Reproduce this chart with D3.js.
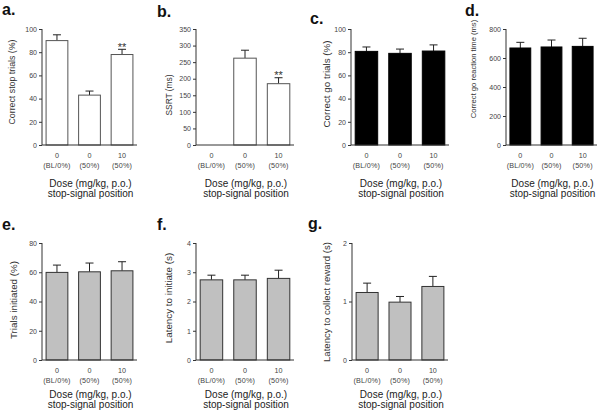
<!DOCTYPE html>
<html><head><meta charset="utf-8">
<script src="https://cdn.jsdelivr.net/npm/d3@7"></script>
<style>body{margin:0;background:#fff}svg{display:block;font-family:"Liberation Sans",Arial,sans-serif}</style>
</head><body><svg id="c" width="602" height="414"></svg>
<script>
const categories = ["0", "0", "10"];
const positions = ["(BL/0%)", "(50%)", "(50%)"];
const stopTrials = [90, 43, 78];
const stopTrialsErr = [95, 46.5, 82.5];
const ssrt = [null, 262, 185];
const ssrtErr = [null, 286, 203];
const goTrials = [80.7, 79, 81];
const goTrialsErr = [84.5, 82.7, 86.3];
const goRT = [669, 676, 680];
const goRTErr = [708, 724, 736];
const initiated = [59.9, 60.3, 61];
const initiatedErr = [64.9, 66.3, 67.2];
const latInit = [2.74, 2.74, 2.79];
const latInitErr = [2.9, 2.9, 3.07];
const latReward = [1.154, 0.989, 1.257];
const latRewardErr = [1.314, 1.086, 1.429];
const sig = [["", "", "**"], ["", "", "**"]];

const panels = [
  {lab:"a.", lx:2, ly:15, x0:42, x1:137, y0:29, y1:145, max:100, ticks:[0,20,40,60,80,100], v:stopTrials, e:stopTrialsErr, fill:"#fff", stroke:"#555", title:"Correct stop trials (%)", tx:12, ty:82, tf:8.8, star:sig[0], d1:42, d2:52},
  {lab:"b.", lx:157, ly:17, x0:196, x1:294, y0:29, y1:145, max:350, ticks:[0,50,100,150,200,250,300,350], v:ssrt, e:ssrtErr, fill:"#fff", stroke:"#555", title:"SSRT (ms)", tx:169, ty:95, tf:8.4, star:sig[1], d1:42, d2:52},
  {lab:"c.", lx:310, ly:24, x0:351, x1:449, y0:29, y1:145, max:100, ticks:[0,20,40,60,80,100], v:goTrials, e:goTrialsErr, fill:"#000", stroke:"#000", title:"Correct go trials (%)", tx:327, ty:84, tf:9.8, d1:42, d2:52},
  {lab:"d.", lx:465, ly:16, x0:506, x1:597, y0:29, y1:145, max:800, ticks:[0,200,400,600,800], v:goRT, e:goRTErr, fill:"#000", stroke:"#000", title:"Correct go reaction time (ms)", tx:473, ty:69, tf:7.6, d1:42, d2:52},
  {lab:"e.", lx:2, ly:230, x0:42, x1:137, y0:243, y1:360, max:80, ticks:[0,20,40,60,80], v:initiated, e:initiatedErr, fill:"#c0c0c0", stroke:"#333", title:"Trials initiated (%)", tx:14, ty:300, tf:9.8, d1:38, d2:47.5},
  {lab:"f.", lx:157, ly:230, x0:196, x1:294, y0:243, y1:360, max:4, ticks:[0,1,2,3,4], v:latInit, e:latInitErr, fill:"#c0c0c0", stroke:"#333", title:"Latency to initiate (s)", tx:169, ty:298, tf:9.8, d1:38, d2:47.5},
  {lab:"g.", lx:308, ly:229, x0:352, x1:448, y0:243, y1:360, max:2, ticks:[0,1,2], v:latReward, e:latRewardErr, fill:"#c0c0c0", stroke:"#333", title:"Latency to collect reward (s)", tx:327, ty:302, tf:9.6, d1:38, d2:47.5}
];

const svg = d3.select("#c");
panels.forEach(p => {
  const g = svg.append("g");
  const x = d3.scaleBand().domain([0,1,2]).range([p.x0, p.x1]).paddingInner(0.3).paddingOuter(0.11);
  const y = d3.scaleLinear().domain([0, p.max]).range([p.y1, p.y0]);
  g.append("text").attr("x", p.lx).attr("y", p.ly).attr("font-size", 16).attr("font-weight", "bold").attr("fill", "#111").text(p.lab);
  const idx = [0,1,2].filter(i => p.v[i] != null);
  g.selectAll(".eb").data(idx).join("line")
    .attr("x1", i => x(i) + x.bandwidth()/2).attr("x2", i => x(i) + x.bandwidth()/2)
    .attr("y1", i => y(p.v[i])).attr("y2", i => y(p.e[i])).attr("stroke", "#222").attr("stroke-width", 1);
  g.selectAll(".cap").data(idx).join("line")
    .attr("x1", i => x(i) + x.bandwidth()/2 - 4).attr("x2", i => x(i) + x.bandwidth()/2 + 4)
    .attr("y1", i => y(p.e[i])).attr("y2", i => y(p.e[i])).attr("stroke", "#222").attr("stroke-width", 1);
  g.selectAll(".bar").data(idx).join("rect")
    .attr("x", i => x(i) + 0.5).attr("width", x.bandwidth() - 1)
    .attr("y", i => y(p.v[i])).attr("height", i => y(0) - y(p.v[i]))
    .attr("fill", p.fill).attr("stroke", p.stroke).attr("stroke-width", 1);
  if (p.star) {
    g.selectAll(".star").data(idx.filter(i => p.star[i])).join("text")
      .attr("x", i => x(i) + x.bandwidth()/2).attr("y", i => y(p.e[i]) + 1.5)
      .attr("text-anchor", "middle").attr("font-size", 11).attr("fill", "#333").text(i => p.star[i]);
  }
  const ya = d3.axisLeft(y).tickValues(p.ticks).tickSize(3).tickPadding(2).tickFormat(d3.format("d"));
  const yg = g.append("g").attr("transform", `translate(${p.x0},0)`).call(ya);
  yg.select(".domain").attr("stroke", "#333").attr("d", `M0,${p.y0}V${p.y1}`);
  yg.selectAll(".tick line").attr("stroke", "#333");
  yg.selectAll(".tick text").attr("font-size", 7).attr("fill", "#444").attr("font-family", "Liberation Sans, Arial, sans-serif");
  g.append("line").attr("x1", p.x0).attr("x2", p.x1).attr("y1", p.y1).attr("y2", p.y1).attr("stroke", "#333");
  g.selectAll(".cl").data([0,1,2]).join("text")
    .attr("x", i => x(i) + x.bandwidth()/2).attr("y", p.y1 + 13).attr("text-anchor", "middle")
    .attr("font-size", 7.2).attr("fill", "#444").text(i => categories[i]);
  g.selectAll(".pl").data([0,1,2]).join("text")
    .attr("x", i => x(i) + x.bandwidth()/2).attr("y", p.y1 + 22.5).attr("text-anchor", "middle")
    .attr("font-size", 7.2).attr("fill", "#444").attr("letter-spacing", 0.2).text(i => positions[i]);
  const cx = (p.x0 + p.x1)/2 + 1;
  g.append("text").attr("x", cx).attr("y", p.y1 + p.d1).attr("text-anchor", "middle").attr("font-size", 10).attr("fill", "#222").text("Dose (mg/kg, p.o.)");
  g.append("text").attr("x", cx).attr("y", p.y1 + p.d2).attr("text-anchor", "middle").attr("font-size", 10).attr("fill", "#222").text("stop-signal position");
  g.append("text").attr("transform", `translate(${p.tx},${p.ty}) rotate(-90)`).attr("dy", "0.35em")
    .attr("text-anchor", "middle").attr("font-size", p.tf).attr("fill", "#333").text(p.title);
});
</script></body></html>
